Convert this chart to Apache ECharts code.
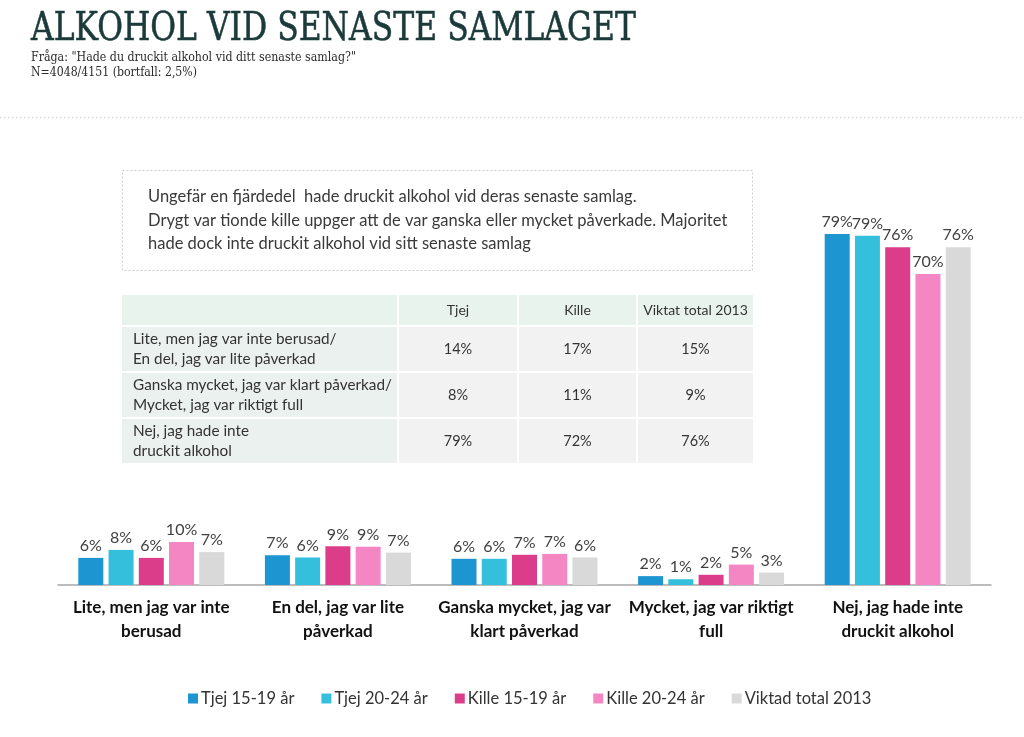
<!DOCTYPE html>
<html>
<head>
<meta charset="utf-8">
<script src="https://cdn.jsdelivr.net/npm/echarts@6/dist/echarts.min.js"></script>
<style>html,body{margin:0;padding:0;background:#fff;}#c{width:1024px;height:737px;}</style>
</head>
<body>
<div id="c"></div>
<script>
// ---- data ----
const categories = [
  'Lite, men jag var inte\nberusad',
  'En del, jag var lite\npåverkad',
  'Ganska mycket, jag var\nklart påverkad',
  'Mycket, jag var riktigt\nfull',
  'Nej, jag hade inte\ndruckit alkohol'
];
const seriesNames = ['Tjej 15-19 år', 'Tjej 20-24 år', 'Kille 15-19 år', 'Kille 20-24 år', 'Viktad total 2013'];
const tjej1519 = [6.1, 6.7, 5.9, 2.0, 79.0];
const tjej2024 = [7.9, 6.2, 5.9, 1.3, 78.6];
const kille1519 = [6.1, 8.7, 6.8, 2.3, 76.0];
const kille2024 = [9.7, 8.6, 7.0, 4.6, 70.0];
const viktadTotal = [7.4, 7.3, 6.2, 2.8, 76.0];

const tableHeader = ['', 'Tjej', 'Kille', 'Viktat total 2013'];
const tableRowLabels = [
  'Lite, men jag var inte berusad/\nEn del, jag var lite påverkad',
  'Ganska mycket, jag var klart påverkad/\nMycket, jag var riktigt full',
  'Nej, jag hade inte\ndruckit alkohol'
];
const tableTjej = ['14%', '8%', '79%'];
const tableKille = ['17%', '11%', '72%'];
const tableTotal = ['15%', '9%', '76%'];

const titleText = 'ALKOHOL VID SENASTE SAMLAGET';
const subtitle1 = 'Fråga: "Hade du druckit alkohol vid ditt senaste samlag?"';
const subtitle2 = 'N=4048/4151 (bortfall: 2,5%)';
const noteLines = [
  'Ungefär en fjärdedel  hade druckit alkohol vid deras senaste samlag.',
  'Drygt var tionde kille uppger att de var ganska eller mycket påverkade. Majoritet',
  'hade dock inte druckit alkohol vid sitt senaste samlag'
];

// ---- styling ----
const colors = ['#1c95d0', '#34c0dc', '#dc3d8a', '#f586c4', '#d9d9d9'];
const sans = 'Lato, "Open Sans", sans-serif';

const ctx = document.createElement('canvas').getContext('2d');
function fitScale(text, font, target) {
  ctx.font = font;
  return target / ctx.measureText(text).width;
}

const titleFont = '39px "DejaVu Serif"';
const subFont = '12px "DejaVu Serif"';

const graphics = [];
// title
graphics.push({
  type: 'text', x: 31, y: 30, scaleX: fitScale(titleText, titleFont, 605),
  style: { text: titleText, font: titleFont, fill: '#1c3a3a', stroke: '#1c3a3a', lineWidth: 0.6,
           textAlign: 'left', textVerticalAlign: 'middle' }
});
graphics.push({
  type: 'text', x: 31, y: 57.5, scaleX: fitScale(subtitle1, subFont, 325),
  style: { text: subtitle1, font: subFont, fill: '#2a2a2a', textAlign: 'left', textVerticalAlign: 'middle' }
});
graphics.push({
  type: 'text', x: 31, y: 72.5, scaleX: fitScale(subtitle2, subFont, 166),
  style: { text: subtitle2, font: subFont, fill: '#2a2a2a', textAlign: 'left', textVerticalAlign: 'middle' }
});
// dotted separator
graphics.push({
  type: 'line', shape: { x1: 0, y1: 117.5, x2: 1024, y2: 117.5 },
  style: { stroke: '#dcdcdc', lineWidth: 1.5, lineDash: [1.5, 2.5] }
});
// note box
graphics.push({
  type: 'rect', shape: { x: 122.5, y: 170.5, width: 630, height: 100 },
  style: { fill: 'none', stroke: '#cfcfcf', lineWidth: 1, lineDash: [2, 2] }
});
const noteFont = '16.5px ' + sans;
noteLines.forEach((t, i) => {
  graphics.push({
    type: 'text', x: 148, y: 197 + i * 23.5,
    style: { text: t, font: noteFont, fill: '#3a3a3a', textAlign: 'left', textVerticalAlign: 'middle' }
  });
});
// table
const colX = [122, 399, 519, 638];
const colW = [275, 118, 117, 115];
const rowY = [295, 327, 373, 419];
const rowH = [30, 44, 44, 44];
const tableCells = [tableHeader];
tableRowLabels.forEach((l, i) => tableCells.push([l, tableTjej[i], tableKille[i], tableTotal[i]]));
tableCells.forEach((row, r) => {
  row.forEach((cell, c) => {
    const fill = r === 0 ? '#e8f3ee' : (c === 0 ? '#ebf1ee' : '#f2f2f2');
    graphics.push({
      type: 'rect', shape: { x: colX[c], y: rowY[r], width: colW[c], height: rowH[r] },
      style: { fill: fill }
    });
    if (cell) {
      const left = c === 0;
      const fs = left ? '15.3px ' : (r === 0 ? '14px ' : '14.5px ');
      graphics.push({
        type: 'text', x: left ? colX[c] + 11 : colX[c] + colW[c] / 2, y: rowY[r] + rowH[r] / 2,
        style: { text: cell, font: fs + sans, fill: '#333', textAlign: left ? 'left' : 'center',
                 textVerticalAlign: 'middle', lineHeight: 20 }
      });
    }
  });
});

const allSeries = [tjej1519, tjej2024, kille1519, kille2024, viktadTotal];

const chart = echarts.init(document.getElementById('c'), null, { renderer: 'canvas' });
chart.setOption({
  animation: false,
  backgroundColor: '#fff',
  color: colors,
  grid: { left: 58, right: 33, top: 140.7, bottom: 152, containLabel: false },
  legend: {
    top: 685, left: 183,
    itemWidth: 10, itemHeight: 10, itemGap: 27,
    icon: 'rect',
    textStyle: { fontFamily: sans, fontSize: 16.5, color: '#333', padding: [0, 0, 0, -2] },
    data: seriesNames
  },
  xAxis: {
    type: 'category', data: categories,
    axisLine: { lineStyle: { color: '#a6a6a6', width: 1.5 } },
    axisTick: { show: false },
    axisLabel: { interval: 0, margin: 11, fontFamily: sans, fontSize: 17, fontWeight: 'bold', color: '#111', lineHeight: 24 }
  },
  yAxis: { type: 'value', min: 0, max: 100, show: false, splitLine: { show: false } },
  series: allSeries.map((d, i) => ({
    name: seriesNames[i], type: 'bar', data: d, barWidth: 25, barGap: '21%',
    label: {
      show: true, position: 'top', distance: 4,
      formatter: p => Math.round(p.value) + '%',
      fontFamily: sans, fontSize: 16, color: '#404040'
    }
  })),
  graphic: graphics
});
</script>
</body>
</html>
